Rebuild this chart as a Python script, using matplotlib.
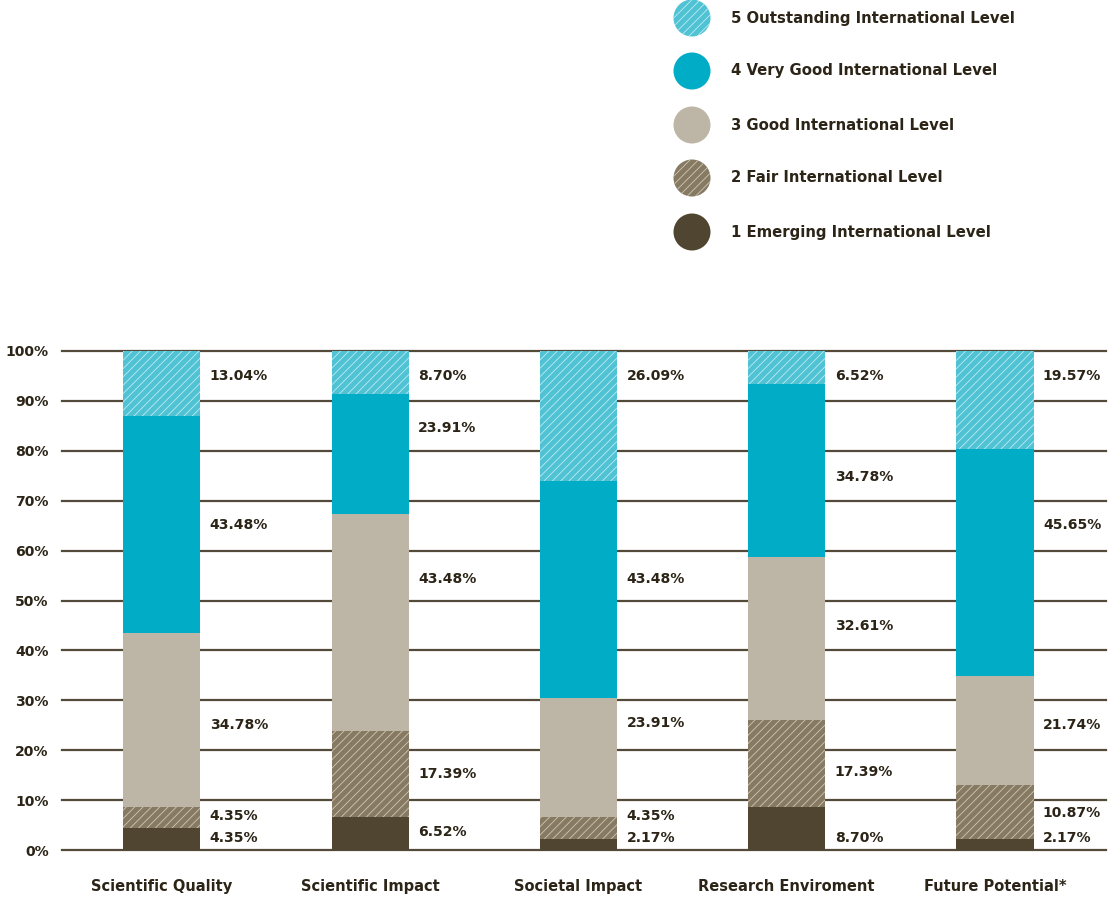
import matplotlib
matplotlib.use("Agg")
import matplotlib.pyplot as plt
from matplotlib.patches import Circle

plt.rcParams['font.family'] = ['DejaVu Sans']
plt.rcParams['hatch.linewidth'] = 0.6

categories = ["Scientific Quality", "Scientific Impact", "Societal Impact",
              "Research Enviroment", "Future Potential*"]
levels = ["1 Emerging International Level", "2 Fair International Level",
          "3 Good International Level", "4 Very Good International Level",
          "5 Outstanding International Level"]

emerging = [4.35, 6.52, 2.17, 8.70, 2.17]
fair = [4.35, 17.39, 4.35, 17.39, 10.87]
good = [34.78, 43.48, 23.91, 32.61, 21.74]
very_good = [43.48, 23.91, 43.48, 34.78, 45.65]
outstanding = [13.04, 8.70, 26.09, 6.52, 19.57]
series = [emerging, fair, good, very_good, outstanding]

# vertical placement (in %) of the value labels beside each bar, per level
label_y = [
    [2.4, 3.6, 2.4, 2.4, 2.4],
    [6.8, 15.2, 6.8, 15.6, 7.4],
    [25.0, 54.3, 25.5, 44.9, 25.0],
    [65.1, 84.6, 54.3, 74.7, 65.1],
    [95.0, 95.0, 95.0, 95.0, 95.0],
]

ytick_vals = [0, 10, 20, 30, 40, 50, 60, 70, 80, 90, 100]

face = ["#4f4530", "#877a63", "#bdb5a6", "#00acc6", "#4fc3d4"]
hatch_col = [None, "#cfc7b6", None, None, "#bfeaf1"]
hatches = [None, "////", None, None, "////"]
text_col = "#2b2417"
grid_col = "#544a3a"

W, H = 1113, 901
fig = plt.figure(figsize=(W / 100, H / 100), dpi=100)
ax = fig.add_axes([62 / W, (H - 850) / H, (1106 - 62) / W, (850 - 351) / H])

xs = list(range(len(categories)))
bw = 0.37
bottoms = [0.0] * len(categories)
for k, vals in enumerate(series):
    kw = dict(color=face[k], linewidth=0, zorder=3)
    if hatches[k]:
        kw.update(hatch=hatches[k], edgecolor=hatch_col[k])
    ax.bar(xs, vals, width=bw, bottom=bottoms, **kw)
    for i, v in enumerate(vals):
        ax.text(xs[i] + bw / 2 + 0.045, label_y[k][i], f"{v:.2f}%",
                ha="left", va="center", fontsize=10.1, fontweight="bold",
                color=text_col, zorder=4)
    bottoms = [b + v for b, v in zip(bottoms, vals)]

ax.set_xlim(-0.48, 4.533)
ax.set_ylim(0, 100)
ax.set_yticks(ytick_vals)
ax.set_yticklabels([f"{v}%" for v in ytick_vals], fontsize=10.1,
                   fontweight="bold", color=text_col)
ax.tick_params(axis="y", length=0, pad=9.5)
ax.set_xticks([])
for v in ytick_vals:
    ax.axhline(v, color=grid_col, linewidth=1.6, zorder=1, clip_on=False)
for s in ax.spines.values():
    s.set_visible(False)

for i, c in enumerate(categories):
    ax.text(xs[i], -7.4, c, ha="center", va="center", fontsize=10.5,
            fontweight="bold", color=text_col)

# legend with round swatches
lax = fig.add_axes([0, 0, 1, 1])
lax.set_xlim(0, W)
lax.set_ylim(H, 0)
lax.axis("off")
leg_y = [18, 71, 125, 178, 232]
for j, k in enumerate([4, 3, 2, 1, 0]):
    kw = dict(facecolor=face[k], linewidth=0)
    if hatches[k]:
        kw.update(hatch=hatches[k], edgecolor=hatch_col[k])
    lax.add_patch(Circle((692, leg_y[j]), 18.5, **kw))
    lax.text(731, leg_y[j], levels[k], ha="left", va="center", fontsize=10.7,
             fontweight="bold", color=text_col)

fig.savefig("out.png", dpi=100)
